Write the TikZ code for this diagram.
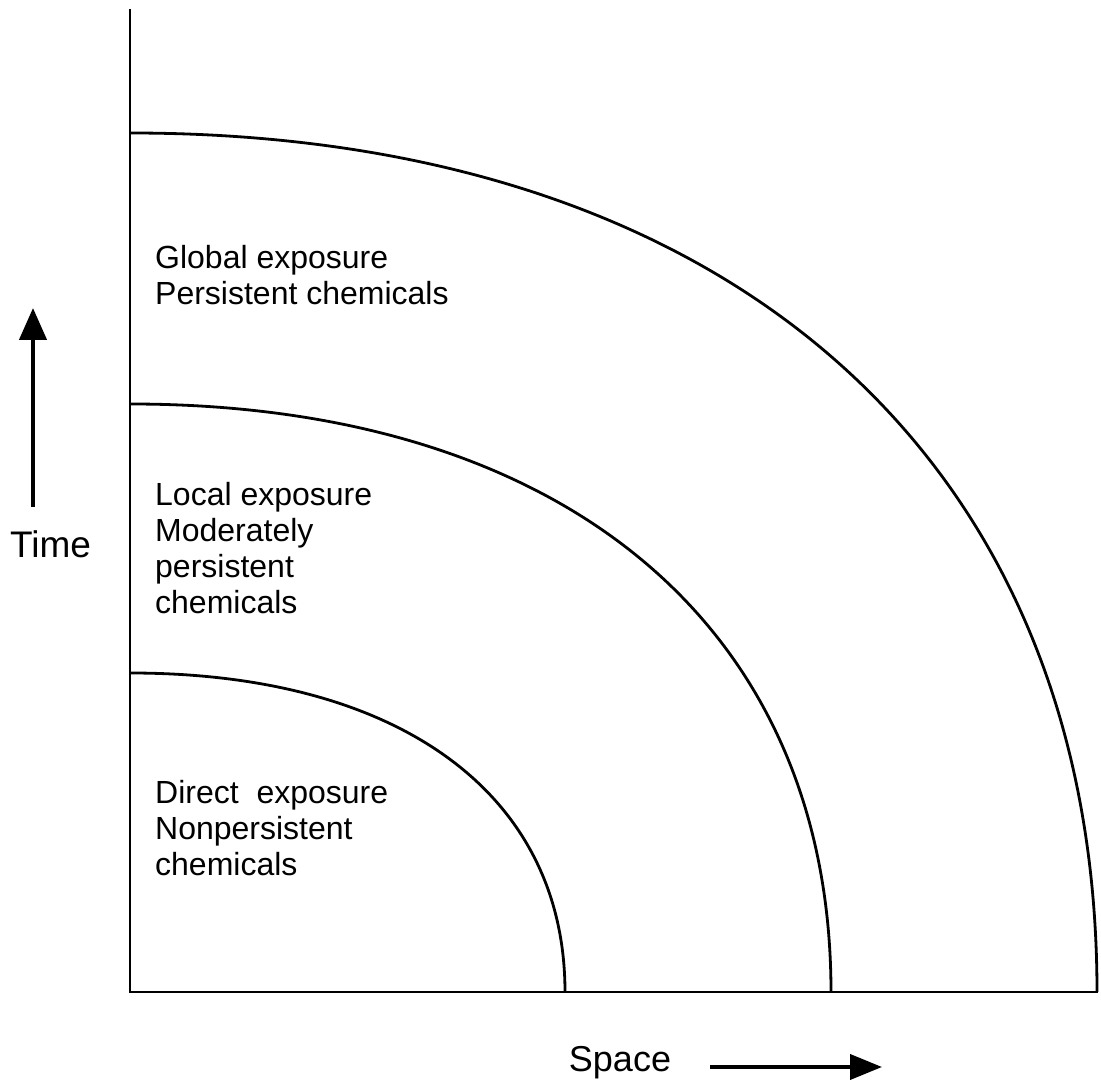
\documentclass[tikz,border=0pt]{standalone}
\usepackage{fontspec}
\setmainfont{Liberation Sans}
\usetikzlibrary{arrows.meta}
\begin{document}
\begin{tikzpicture}[x=1pt,y=1pt,
  axisline/.style={line width=2.8pt,line cap=rect},
  zone/.style={line width=2.8pt},
  label/.style={anchor=north west,inner sep=0pt,align=left,font=\fontsize{32}{36}\selectfont},
  dirarrow/.style={line width=4.5pt,-{Triangle[length=32pt,width=27pt]}},
  axlabel/.style={anchor=base,inner sep=0pt,font=\fontsize{37}{40}\selectfont}]
\useasboundingbox (0,0) rectangle (1101,1085);
% axes
\coordinate (o) at (130,93);
\coordinate (ytop) at (130,1075);
\coordinate (xend) at (1097,93);
\draw[axisline] (ytop) -- (o) -- (xend);
% zone boundaries
\coordinate (a1) at (130,412);
\coordinate (a1c1) at (399.7,412);
\coordinate (a1c2) at (565,290.8);
\coordinate (a1e) at (565,93);
\coordinate (a2) at (130,681);
\coordinate (a2c1) at (564.6,681);
\coordinate (a2c2) at (831,457.6);
\coordinate (a2e) at (831,93);
\coordinate (a3) at (130,952);
\coordinate (a3c1) at (729.5,952);
\coordinate (a3c2) at (1097,625.6);
\coordinate (a3e) at (1097,93);
\draw[zone] (a1) .. controls (a1c1) and (a1c2) .. (a1e);
\draw[zone] (a2) .. controls (a2c1) and (a2c2) .. (a2e);
\draw[zone] (a3) .. controls (a3c1) and (a3c2) .. (a3e);
% labels
\node[label] (global) at (155,840) {Global exposure\\Persistent chemicals};
\node[label] (local) at (155,603) {Local exposure\\Moderately\\persistent\\chemicals};
\node[label] (direct) at (155,305) {Direct\ \ exposure\\Nonpersistent\\chemicals};
% axis labels and arrows
\node[axlabel] (time) at (50.5,527) {Time};
\coordinate (t0) at (33,578);
\coordinate (t1) at (33,777);
\draw[dirarrow] (t0) -- (t1);
\node[axlabel,font=\fontsize{36}{40}\selectfont] (space) at (620,13) {Space};
\coordinate (s0) at (710,18);
\coordinate (s1) at (882,18);
\draw[dirarrow,line width=4pt,-{Triangle[length=32pt,width=25pt]}] (s0) -- (s1);
\end{tikzpicture}
\end{document}
